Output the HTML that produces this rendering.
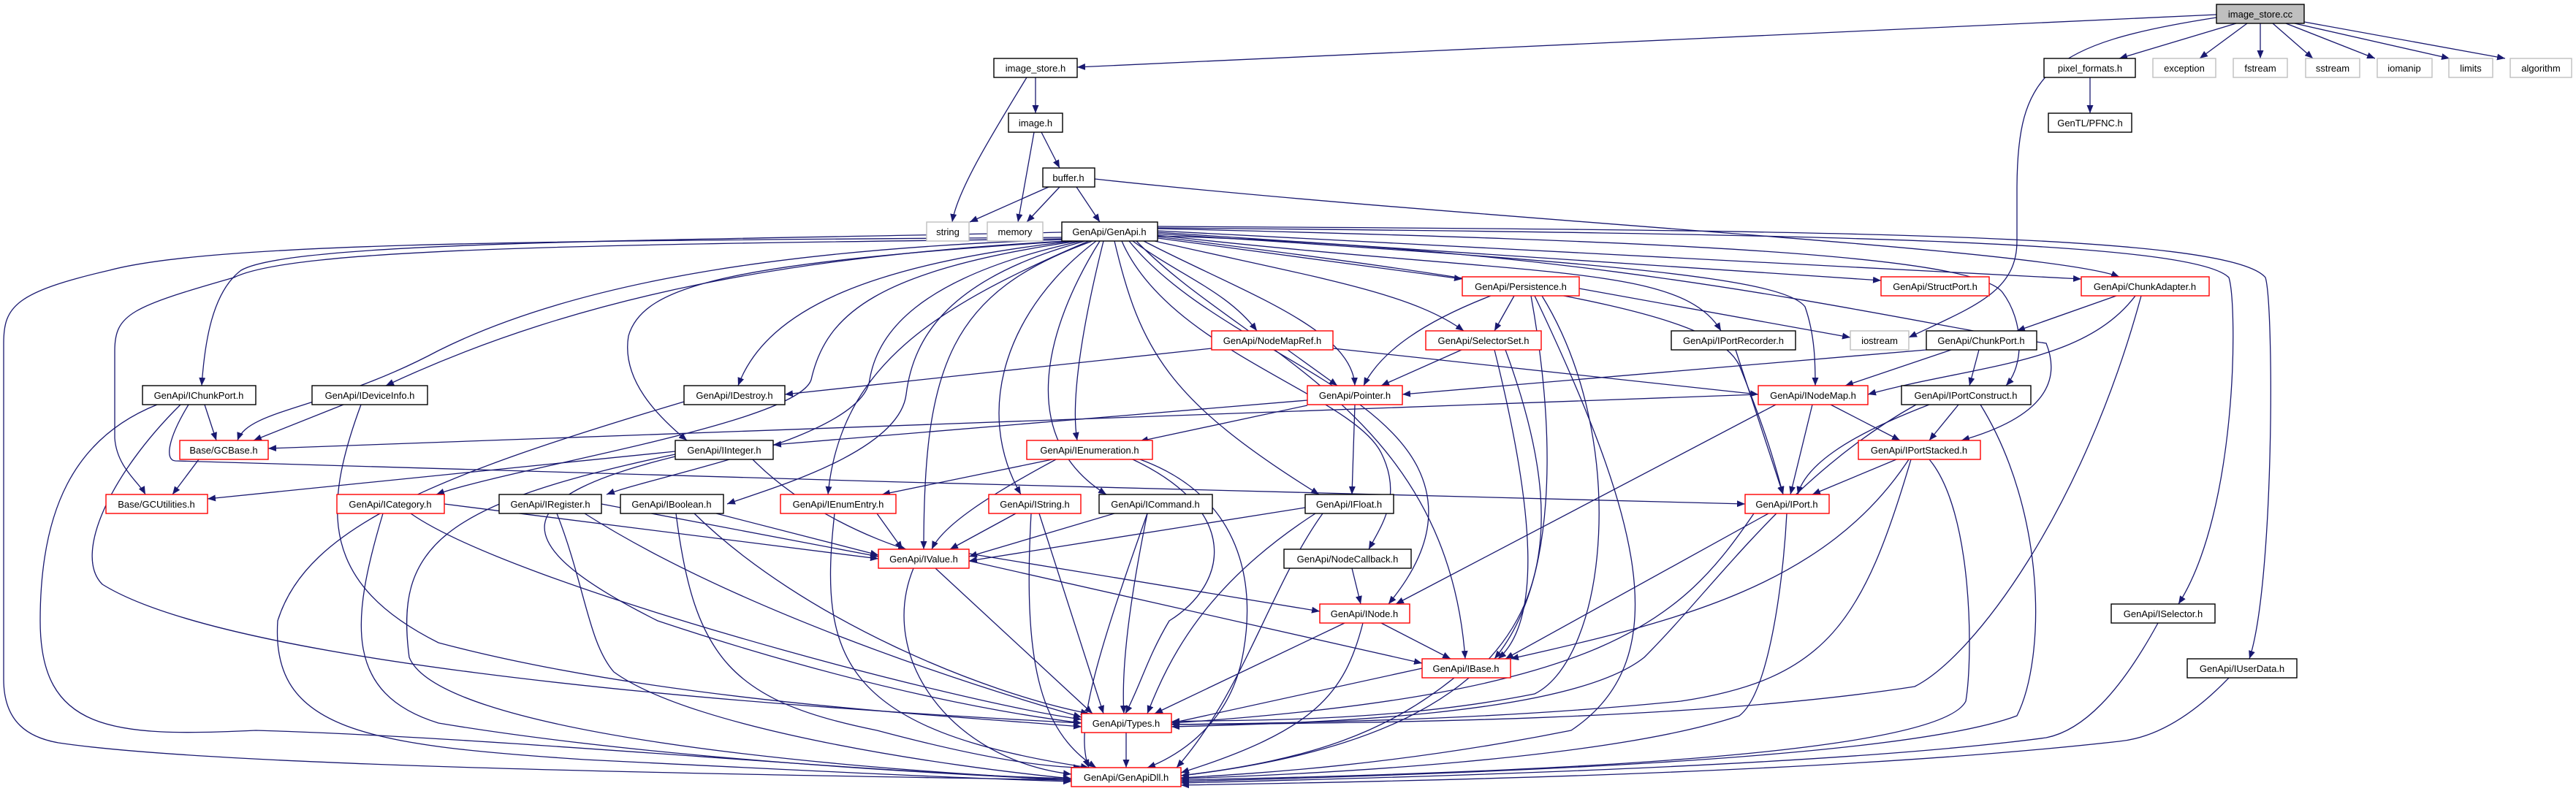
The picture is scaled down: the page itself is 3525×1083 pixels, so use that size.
<!DOCTYPE html>
<html><head><meta charset="utf-8"><style>
html,body{margin:0;padding:0;background:#fff;}
svg{display:block}
text{font-family:"Liberation Sans",sans-serif;font-size:13px;fill:#000;text-anchor:middle}
.e{fill:none;stroke:#191970;stroke-width:1.3;marker-end:url(#a)}
.b{fill:#fff;stroke:#000;stroke-width:1.4}
.r{fill:#fff;stroke:#ff0000;stroke-width:1.4}
.g{fill:#fff;stroke:#bfbfbf;stroke-width:1.4}
</style></head><body>
<svg width="3525" height="1083" viewBox="0 0 3525 1083" xmlns="http://www.w3.org/2000/svg">
<defs><marker id="a" markerUnits="userSpaceOnUse" markerWidth="12" markerHeight="9" refX="11" refY="4.5" orient="auto"><path d="M0,0 L11,4.5 L0,9 z" fill="#191970"/></marker></defs>
<g>
<path class="e" d="M3033,20 L1474,92"/>
<path class="e" d="M3060,32 L2900,80"/>
<path class="e" d="M3075,32 L3010,80"/>
<path class="e" d="M3093,32 L3093,80"/>
<path class="e" d="M3110,32 L3165,80"/>
<path class="e" d="M3128,32 L3250,80"/>
<path class="e" d="M3140,32 L3352,80"/>
<path class="e" d="M3153,30 L3428,80"/>
<path class="e" d="M3033,24 C2800,60 2760,100 2760,260 L2760,330 C2760,400 2700,420 2612,462"/>
<path class="e" d="M1417,106 L1417,155"/>
<path class="e" d="M1405,106 C1360,180 1310,260 1303,304"/>
<path class="e" d="M1415,181 L1393,304"/>
<path class="e" d="M1425,181 L1450,230"/>
<path class="e" d="M1435,256 L1327,304"/>
<path class="e" d="M1450,256 L1405,304"/>
<path class="e" d="M1473,256 L1505,304"/>
<path class="e" d="M1498,245 C2000,300 2800,340 2900,379"/>
<path class="e" d="M2860,106 L2860,155"/>
<path class="e" d="M1453,318 C900,330 400,330 330,370 C290,400 280,470 276,528"/>
<path class="e" d="M1453,325 C800,330 300,330 150,370 C20,400 5,420 5,470 L5,930 C5,990 40,1010 80,1017 C300,1050 1000,1060 1466,1068"/>
<path class="e" d="M1453,327 C800,335 400,340 320,380 C180,420 157,430 157,480 L157,600 C160,640 190,660 199,677"/>
<path class="e" d="M1455,328 C1100,340 800,380 600,480 C450,560 340,560 325,603"/>
<path class="e" d="M1458,330 C1100,350 800,400 528,528"/>
<path class="e" d="M1470,330 C1200,360 1050,420 1010,528"/>
<path class="e" d="M1465,330 C1000,360 880,390 860,460 C850,520 900,570 940,603"/>
<path class="e" d="M1475,330 C1200,370 1130,430 1110,520 C1090,580 700,640 597,677"/>
<path class="e" d="M1480,330 C1250,380 1200,460 1190,520 C1180,600 900,650 830,677"/>
<path class="e" d="M1485,330 C1300,380 1250,460 1240,540 C1230,620 1050,670 995,690"/>
<path class="e" d="M1490,330 C1280,420 1150,500 1133,677"/>
<path class="e" d="M1495,330 C1300,400 1264,500 1264,752"/>
<path class="e" d="M1500,330 C1380,420 1330,560 1397,677"/>
<path class="e" d="M1505,330 C1430,450 1390,600 1514,677"/>
<path class="e" d="M1510,330 C1480,450 1465,550 1474,603"/>
<path class="e" d="M1525,330 C1560,480 1600,550 1805,677"/>
<path class="e" d="M1535,330 C1600,480 1850,540 1890,620 C1920,680 1890,720 1873,752"/>
<path class="e" d="M1545,330 C1650,460 1880,520 1940,640 C1980,720 1930,790 1900,827"/>
<path class="e" d="M1555,330 C1700,480 1980,560 2005,902"/>
<path class="e" d="M1565,330 C1700,400 1850,450 1854,528"/>
<path class="e" d="M1550,330 C1620,380 1680,400 1720,453"/>
<path class="e" d="M1580,330 C1800,380 1930,400 2003,453"/>
<path class="e" d="M1584,326 L2001,382"/>
<path class="e" d="M1584,322 C2100,380 2300,360 2355,453"/>
<path class="e" d="M1584,318 L2574,384"/>
<path class="e" d="M1584,316 L2848,382"/>
<path class="e" d="M1584,320 C2200,360 2440,380 2470,420 C2484,460 2484,500 2484,528"/>
<path class="e" d="M1584,313 C2300,330 2700,350 2740,400 C2770,440 2770,500 2745,528"/>
<path class="e" d="M1584,324 C2200,400 2350,440 2380,500 C2420,600 2430,640 2440,677"/>
<path class="e" d="M1584,323 C2200,340 2600,440 2800,470 C2820,520 2800,570 2684,603"/>
<path class="e" d="M1584,312 C2500,320 3000,330 3050,380 C3062,420 3062,700 2981,827"/>
<path class="e" d="M1584,310 C2500,315 3050,320 3100,380 C3112,420 3112,800 3078,902"/>
<path class="e" d="M2040,405 C1950,440 1890,480 1866,528"/>
<path class="e" d="M2072,405 L2045,453"/>
<path class="e" d="M2161,395 L2532,462"/>
<path class="e" d="M2095,405 C2130,600 2130,800 2045,902"/>
<path class="e" d="M2110,405 C2230,600 2200,900 2100,950 C1900,990 1700,985 1603,988"/>
<path class="e" d="M2100,405 C2240,700 2300,900 2150,1000 C1900,1050 1700,1060 1616,1065"/>
<path class="e" d="M1658,477 L1074,540"/>
<path class="e" d="M1762,479 L1830,528"/>
<path class="e" d="M1824,477 L2406,540"/>
<path class="e" d="M2000,479 L1890,528"/>
<path class="e" d="M2045,479 C2100,700 2110,850 2050,902"/>
<path class="e" d="M2060,479 C2160,750 2150,1000 1616,1062"/>
<path class="e" d="M2375,479 L2440,677"/>
<path class="e" d="M2896,405 L2760,453"/>
<path class="e" d="M2922,405 C2850,500 2700,500 2556,540"/>
<path class="e" d="M2930,405 C2850,700 2700,900 2620,940 C2300,990 1800,990 1603,992"/>
<path class="e" d="M2636,479 L1919,540"/>
<path class="e" d="M2670,479 L2525,528"/>
<path class="e" d="M2708,479 L2695,528"/>
<path class="e" d="M280,554 L296,603"/>
<path class="e" d="M247,554 C150,650 100,760 140,800 C300,900 900,960 1480,990"/>
<path class="e" d="M215,554 C100,600 55,700 55,850 C55,1000 150,1010 350,1000 C700,1010 1200,1060 1466,1066"/>
<path class="e" d="M258,554 C230,600 225,630 240,631 C800,650 2000,680 2388,690"/>
<path class="e" d="M470,554 L347,603"/>
<path class="e" d="M494,554 C440,700 440,800 600,880 C900,960 1300,980 1480,995"/>
<path class="e" d="M936,550 C600,650 420,720 380,850 C370,1000 500,1020 800,1040 C1100,1055 1300,1065 1466,1070"/>
<path class="e" d="M2406,540 L367,614"/>
<path class="e" d="M1789,548 L1058,609"/>
<path class="e" d="M1789,555 L1560,604"/>
<path class="e" d="M1854,554 L1850,677"/>
<path class="e" d="M2480,554 L2450,677"/>
<path class="e" d="M2430,554 L1910,827"/>
<path class="e" d="M2505,554 L2600,603"/>
<path class="e" d="M2680,554 L2640,603"/>
<path class="e" d="M2640,554 C2520,600 2470,640 2460,677"/>
<path class="e" d="M2622,554 C2450,650 2350,800 2250,900 C2150,980 1800,990 1603,995"/>
<path class="e" d="M2710,554 C2800,700 2800,900 2760,980 C2600,1040 2000,1060 1616,1070"/>
<path class="e" d="M2595,629 L2480,677"/>
<path class="e" d="M2612,629 C2500,800 2300,850 2067,902"/>
<path class="e" d="M2615,629 C2550,850 2500,930 2300,960 C2000,990 1700,990 1603,992"/>
<path class="e" d="M2640,629 C2700,700 2700,900 2690,960 C2650,1040 2000,1060 1616,1068"/>
<path class="e" d="M272,629 L236,677"/>
<path class="e" d="M924,618 L284,683"/>
<path class="e" d="M1030,629 C1100,700 1200,740 1240,752"/>
<path class="e" d="M924,625 C700,680 680,740 900,850 C1200,950 1400,980 1480,990"/>
<path class="e" d="M924,622 C600,690 540,750 560,900 C600,1000 1100,1050 1466,1068"/>
<path class="e" d="M1440,629 L1207,677"/>
<path class="e" d="M1445,629 C1350,680 1290,720 1275,752"/>
<path class="e" d="M1550,629 C1700,700 1680,800 1600,850 C1570,900 1560,940 1540,977"/>
<path class="e" d="M1560,629 C1700,680 1720,800 1700,900 C1680,1000 1600,1040 1570,1051"/>
<path class="e" d="M608,690 L1202,765"/>
<path class="e" d="M562,703 C700,800 1300,960 1480,985"/>
<path class="e" d="M524,703 C480,850 470,950 600,990 C900,1040 1300,1060 1466,1068"/>
<path class="e" d="M823,690 L1202,762"/>
<path class="e" d="M800,703 C1000,830 1300,930 1480,982"/>
<path class="e" d="M762,703 C800,800 805,880 840,920 C950,1000 1300,1050 1466,1066"/>
<path class="e" d="M980,703 L1202,760"/>
<path class="e" d="M950,703 C1100,850 1350,950 1490,977"/>
<path class="e" d="M925,703 C950,900 1000,960 1200,1000 C1350,1040 1430,1050 1480,1051"/>
<path class="e" d="M1200,703 L1235,752"/>
<path class="e" d="M1142,703 C1120,900 1150,1000 1490,1051"/>
<path class="e" d="M1390,703 L1300,752"/>
<path class="e" d="M1422,703 L1510,977"/>
<path class="e" d="M1411,703 C1400,900 1420,1000 1500,1051"/>
<path class="e" d="M1525,703 L1326,762"/>
<path class="e" d="M1570,703 C1540,850 1535,930 1538,977"/>
<path class="e" d="M1570,703 C1500,900 1470,1000 1490,1051"/>
<path class="e" d="M1786,695 L1326,768"/>
<path class="e" d="M1800,703 C1650,800 1600,900 1570,977"/>
<path class="e" d="M1810,703 C1740,800 1700,950 1610,1051"/>
<path class="e" d="M2420,703 L2060,902"/>
<path class="e" d="M2400,703 C2300,850 2200,950 1603,990"/>
<path class="e" d="M2445,703 C2440,800 2420,950 2380,980 C2200,1040 1800,1060 1616,1066"/>
<path class="e" d="M1326,758 L1806,837"/>
<path class="e" d="M1326,768 L1946,908"/>
<path class="e" d="M1280,778 L1495,977"/>
<path class="e" d="M1250,778 C1200,900 1300,1040 1466,1060"/>
<path class="e" d="M1850,778 L1862,827"/>
<path class="e" d="M1890,853 L1985,902"/>
<path class="e" d="M1840,853 L1580,977"/>
<path class="e" d="M1865,853 C1840,950 1800,1000 1616,1058"/>
<path class="e" d="M1946,915 L1603,990"/>
<path class="e" d="M1990,928 C1900,1000 1800,1040 1616,1062"/>
<path class="e" d="M2953,853 C2900,950 2850,1000 2800,1010 C2500,1050 1900,1065 1616,1072"/>
<path class="e" d="M3050,928 C3000,980 2950,1010 2900,1015 C2500,1060 1900,1070 1616,1075"/>
<path class="e" d="M1541,1003 L1541,1051"/>
</g>
<g>
<rect x="3033" y="6" width="120" height="26" fill="#bfbfbf" stroke="#000" stroke-width="1.4"/><text x="3093" y="24">image_store.cc</text>
<rect class="b" x="1360" y="80" width="114" height="26"/><text x="1417" y="98">image_store.h</text>
<rect class="b" x="2797" y="80" width="125" height="26"/><text x="2860" y="98">pixel_formats.h</text>
<rect class="g" x="2946" y="80" width="86" height="26"/><text x="2989" y="98">exception</text>
<rect class="g" x="3056" y="80" width="74" height="26"/><text x="3093" y="98">fstream</text>
<rect class="g" x="3155" y="80" width="74" height="26"/><text x="3192" y="98">sstream</text>
<rect class="g" x="3253" y="80" width="75" height="26"/><text x="3290" y="98">iomanip</text>
<rect class="g" x="3351" y="80" width="60" height="26"/><text x="3381" y="98">limits</text>
<rect class="g" x="3435" y="80" width="84" height="26"/><text x="3477" y="98">algorithm</text>
<rect class="b" x="1380" y="155" width="74" height="26"/><text x="1417" y="173">image.h</text>
<rect class="b" x="2803" y="155" width="114" height="26"/><text x="2860" y="173">GenTL/PFNC.h</text>
<rect class="b" x="1427" y="230" width="71" height="26"/><text x="1462" y="248">buffer.h</text>
<rect class="g" x="1268" y="304" width="58" height="26"/><text x="1297" y="322">string</text>
<rect class="g" x="1351" y="304" width="76" height="26"/><text x="1389" y="322">memory</text>
<rect class="b" x="1453" y="304" width="131" height="26"/><text x="1518" y="322">GenApi/GenApi.h</text>
<rect class="r" x="2001" y="379" width="160" height="26"/><text x="2081" y="397">GenApi/Persistence.h</text>
<rect class="r" x="2574" y="379" width="148" height="26"/><text x="2648" y="397">GenApi/StructPort.h</text>
<rect class="r" x="2848" y="379" width="175" height="26"/><text x="2935" y="397">GenApi/ChunkAdapter.h</text>
<rect class="r" x="1658" y="453" width="166" height="26"/><text x="1741" y="471">GenApi/NodeMapRef.h</text>
<rect class="r" x="1951" y="453" width="158" height="26"/><text x="2030" y="471">GenApi/SelectorSet.h</text>
<rect class="b" x="2287" y="453" width="170" height="26"/><text x="2372" y="471">GenApi/IPortRecorder.h</text>
<rect class="g" x="2532" y="453" width="80" height="26"/><text x="2572" y="471">iostream</text>
<rect class="b" x="2636" y="453" width="151" height="26"/><text x="2711" y="471">GenApi/ChunkPort.h</text>
<rect class="b" x="195" y="528" width="155" height="26"/><text x="272" y="546">GenApi/IChunkPort.h</text>
<rect class="b" x="427" y="528" width="158" height="26"/><text x="506" y="546">GenApi/IDeviceInfo.h</text>
<rect class="b" x="936" y="528" width="138" height="26"/><text x="1005" y="546">GenApi/IDestroy.h</text>
<rect class="r" x="1789" y="528" width="130" height="26"/><text x="1854" y="546">GenApi/Pointer.h</text>
<rect class="r" x="2406" y="528" width="150" height="26"/><text x="2481" y="546">GenApi/INodeMap.h</text>
<rect class="b" x="2602" y="528" width="177" height="26"/><text x="2690" y="546">GenApi/IPortConstruct.h</text>
<rect class="r" x="246" y="603" width="121" height="26"/><text x="306" y="621">Base/GCBase.h</text>
<rect class="b" x="924" y="603" width="134" height="26"/><text x="991" y="621">GenApi/IInteger.h</text>
<rect class="r" x="1405" y="603" width="172" height="26"/><text x="1491" y="621">GenApi/IEnumeration.h</text>
<rect class="r" x="2543" y="603" width="167" height="26"/><text x="2626" y="621">GenApi/IPortStacked.h</text>
<rect class="r" x="145" y="677" width="139" height="26"/><text x="214" y="695">Base/GCUtilities.h</text>
<rect class="r" x="461" y="677" width="147" height="26"/><text x="534" y="695">GenApi/ICategory.h</text>
<rect class="b" x="683" y="677" width="140" height="26"/><text x="753" y="695">GenApi/IRegister.h</text>
<rect class="b" x="849" y="677" width="141" height="26"/><text x="919" y="695">GenApi/IBoolean.h</text>
<rect class="r" x="1068" y="677" width="158" height="26"/><text x="1147" y="695">GenApi/IEnumEntry.h</text>
<rect class="r" x="1353" y="677" width="126" height="26"/><text x="1416" y="695">GenApi/IString.h</text>
<rect class="b" x="1504" y="677" width="155" height="26"/><text x="1581" y="695">GenApi/ICommand.h</text>
<rect class="b" x="1786" y="677" width="121" height="26"/><text x="1846" y="695">GenApi/IFloat.h</text>
<rect class="r" x="2388" y="677" width="115" height="26"/><text x="2445" y="695">GenApi/IPort.h</text>
<rect class="r" x="1202" y="752" width="124" height="26"/><text x="1264" y="770">GenApi/IValue.h</text>
<rect class="b" x="1757" y="752" width="174" height="26"/><text x="1844" y="770">GenApi/NodeCallback.h</text>
<rect class="r" x="1806" y="827" width="123" height="26"/><text x="1867" y="845">GenApi/INode.h</text>
<rect class="b" x="2889" y="827" width="142" height="26"/><text x="2960" y="845">GenApi/ISelector.h</text>
<rect class="r" x="1946" y="902" width="121" height="26"/><text x="2006" y="920">GenApi/IBase.h</text>
<rect class="b" x="2993" y="902" width="150" height="26"/><text x="3068" y="920">GenApi/IUserData.h</text>
<rect class="r" x="1480" y="977" width="123" height="26"/><text x="1541" y="995">GenApi/Types.h</text>
<rect class="r" x="1466" y="1051" width="150" height="26"/><text x="1541" y="1069">GenApi/GenApiDll.h</text>
</g>
</svg>
</body></html>
